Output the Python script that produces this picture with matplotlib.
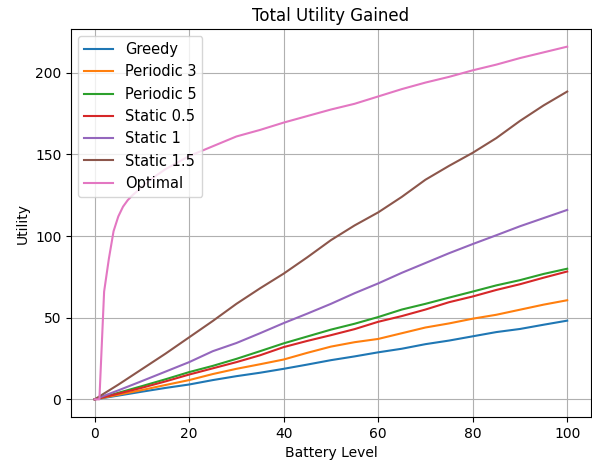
import matplotlib
matplotlib.use('Agg')
import matplotlib.pyplot as plt

battery = [0, 5, 10, 15, 20, 25, 30, 35, 40, 45, 50, 55, 60, 65, 70, 75, 80, 85, 90, 95, 100]

greedy = [0, 2.3, 4.7, 7, 9.1, 11.8, 14.2, 16.3, 18.7, 21.3, 24, 26.3, 28.8, 31, 33.8, 36, 38.6, 41.2, 43.1, 45.7, 48.2]
periodic3 = [0, 2.8, 5.7, 8.8, 11.8, 15.5, 18.7, 21.5, 24.4, 28.5, 32.3, 35, 37, 40.5, 44, 46.5, 49.4, 51.8, 54.9, 58, 60.7]
periodic5 = [0, 4, 8.1, 12.3, 16.7, 20.5, 24.8, 29.5, 34.3, 38.5, 42.7, 46.3, 50.4, 55, 58.5, 62.3, 66, 69.8, 73, 76.8, 80]
static05 = [0, 3.5, 7.1, 11, 15.2, 19, 22.8, 27, 32, 35.8, 39.3, 43, 47.5, 51, 55, 59.5, 63, 67, 70.5, 74.5, 78.3]
static1 = [0, 5.5, 11.2, 17, 22.8, 29.5, 34.5, 40.5, 46.7, 52.5, 58.5, 65, 71, 77.5, 83.5, 89.5, 95.1, 100.5, 106, 111, 116]
static15 = [0, 9, 18.5, 28, 38, 48, 58.5, 68, 77, 87, 97.5, 106.5, 114.5, 124, 134.5, 143, 151, 160, 170.5, 180, 188.5]

# optimal rises very fast at the start, so it gets its own x values
battery_opt = [0, 1, 2, 3, 4, 5, 6, 7, 8, 10, 12, 15, 20, 25, 30, 35, 40, 45, 50, 55, 60, 65, 70, 75, 80, 85, 90, 95, 100]
optimal = [0, 0, 66, 86, 103, 112, 118, 122, 125, 130, 135, 141, 149, 155, 161, 165, 169.5, 173.5, 177.5, 181,
           185.5, 190, 194, 197.5, 201.5, 205, 209, 212.5, 216]

fig = plt.figure(figsize=(5.92, 4.68), dpi=100)
ax = fig.add_axes([0.12, 0.109, 0.878, 0.829])

ax.plot(battery, greedy, label='Greedy')
ax.plot(battery, periodic3, label='Periodic 3')
ax.plot(battery, periodic5, label='Periodic 5')
ax.plot(battery, static05, label='Static 0.5')
ax.plot(battery, static1, label='Static 1')
ax.plot(battery, static15, label='Static 1.5')
ax.plot(battery_opt, optimal, label='Optimal')

ax.set_title('Total Utility Gained')
ax.set_xlabel('Battery Level')
ax.set_ylabel('Utility')
ax.grid(True)
ax.legend(loc='upper left', fontsize=10.5)

fig.savefig('out.png', dpi=100)
